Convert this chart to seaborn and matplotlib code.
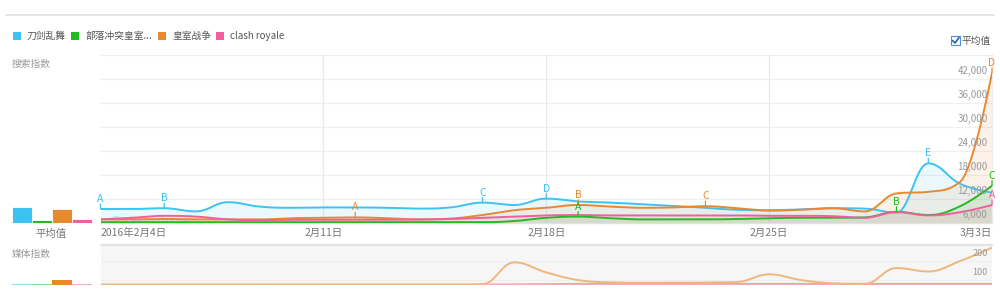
import numpy as np
import pandas as pd
import matplotlib
matplotlib.use('Agg')
import matplotlib.pyplot as plt
import matplotlib.transforms as mtransforms
from matplotlib.patches import Rectangle
from matplotlib.lines import Line2D
import seaborn as sns

# ---------------- data ----------------
series_names = ['刀剑乱舞', '部落冲突皇室战争', '皇室战争', 'clash royale']
legend_labels = ['刀剑乱舞', '部落冲突皇室...', '皇室战争', 'clash royale']
colors = ['#3cc3f2', '#22bb22', '#e8892f', '#f35e9e']
media_colors = ['#9ddcf5', '#8fd88f', '#f0b77c', '#f5a9c9']
days = list(range(29))
x_tick_pos = [0, 7, 14, 21, 28]
x_tick_labels = ['2016年2月4日', '2月11日', '2月18日', '2月25日', '3月3日']
y_tick_values = [6000, 12000, 18000, 24000, 30000, 36000, 42000]
media_tick_values = [100, 200]

search_blue = [9500, 9500, 9700, 8900, 11200, 10100, 9800, 9900, 9900, 9800,
               9600, 9900, 11100, 10500, 12100, 11400, 11100, 10700, 10300, 9800,
               9300, 9200, 9400, 9700, 9600, 8600, 20900, 15800, 13600]
search_green = [6200, 6200, 6200, 6200, 6200, 6200, 6200, 6200, 6200, 6200,
                6200, 6200, 6200, 6500, 7300, 7600, 7200, 6900, 6900, 6900,
                7000, 7200, 7300, 7300, 7400, 8800, 8000, 10200, 15300]
search_orange = [6900, 6900, 7000, 6900, 6900, 6900, 7200, 7300, 7400, 7200,
                 6900, 7100, 8000, 9200, 9800, 10500, 10100, 9800, 9900, 10200,
                 9700, 9100, 9300, 9700, 8900, 13400, 13800, 16300, 43500]
search_pink = [6900, 7300, 7800, 7600, 6900, 6700, 6800, 6800, 6800, 6800,
               6900, 7000, 7300, 7600, 7900, 8000, 7900, 7900, 7900, 7900,
               7900, 7800, 7800, 7700, 7300, 8700, 7900, 8700, 10500]
search_avg = [10000, 6750, 9600, 7100]

media_blue = [75] * 29
media_green = [75, 75, 75, 75, 75, 75, 75, 75, 75, 75, 75, 75, 76, 78, 79, 80, 80, 80, 80, 80,
               80, 80, 80, 80, 80, 80, 80, 80, 80]
media_orange = [76, 76, 76, 76, 76, 76, 76, 76, 76, 76, 76, 76, 78, 193, 140, 100, 88, 86, 86, 87,
                90, 130, 100, 83, 80, 163, 145, 200, 270]
media_pink = [75] * 29
media_avg = [79, 79, 99, 79]

# (series index, day, letter)
annotations = [(0, 0, 'A'), (0, 2, 'B'), (0, 12, 'C'), (0, 14, 'D'), (0, 26, 'E'),
               (2, 8, 'A'), (2, 15, 'B'), (2, 19, 'C'), (2, 28, 'D'),
               (1, 15, 'A'), (1, 25, 'B'), (1, 28, 'C'),
               (3, 28, 'A')]

search = [search_blue, search_green, search_orange, search_pink]
media = [media_blue, media_green, media_orange, media_pink]


# ---------------- helpers ----------------
def spline(xv, yv, smoothing=1.5, steps=24):
    """Highcharts-like smooth path through the points (rendering only)."""
    xv = np.asarray(xv, float)
    yv = np.asarray(yv, float)
    n = len(xv)
    lcx, lcy = xv.copy(), yv.copy()
    rcx, rcy = xv.copy(), yv.copy()
    d = smoothing + 1
    for i in range(1, n - 1):
        px, py = xv[i], yv[i]
        lx, ly = xv[i - 1], yv[i - 1]
        nx, ny = xv[i + 1], yv[i + 1]
        lX = (smoothing * px + lx) / d
        lY = (smoothing * py + ly) / d
        rX = (smoothing * px + nx) / d
        rY = (smoothing * py + ny) / d
        corr = 0.0
        if rX != lX:
            corr = ((rY - lY) * (rX - px)) / (rX - lX) + py - rY
        lY += corr
        rY += corr
        if lY > ly and lY > py:
            lY = max(ly, py); rY = 2 * py - lY
        elif lY < ly and lY < py:
            lY = min(ly, py); rY = 2 * py - lY
        if rY > ny and rY > py:
            rY = max(ny, py); lY = 2 * py - rY
        elif rY < ny and rY < py:
            rY = min(ny, py); lY = 2 * py - rY
        lcx[i], lcy[i], rcx[i], rcy[i] = lX, lY, rX, rY
    t = np.linspace(0, 1, steps, endpoint=False)
    ox, oy = [], []
    for i in range(n - 1):
        p0x, p0y = xv[i], yv[i]
        c1x, c1y = rcx[i], rcy[i]
        c2x, c2y = lcx[i + 1], lcy[i + 1]
        p3x, p3y = xv[i + 1], yv[i + 1]
        a = (1 - t) ** 3; b = 3 * (1 - t) ** 2 * t; c = 3 * (1 - t) * t ** 2; e = t ** 3
        ox.append(a * p0x + b * c1x + c * c2x + e * p3x)
        oy.append(a * p0y + b * c1y + c * c2y + e * p3y)
    ox.append([xv[-1]]); oy.append([yv[-1]])
    return np.concatenate(ox), np.concatenate(oy)


W, H = 1000, 294


def fx(px):
    return px / W


def fy(py):
    return 1 - py / H


# ---------------- figure ----------------
sns.set_theme(style='white')
plt.rcParams['font.family'] = ['Noto Sans CJK SC', 'DejaVu Sans']
plt.rcParams['axes.unicode_minus'] = False

fig = plt.figure(figsize=(10, 2.94), dpi=100)
fig.patch.set_facecolor('white')

# top separator
fig.add_artist(Line2D([fx(6), fx(994)], [fy(15), fy(15)], color='#e6e6e6', lw=1.4,
                      transform=fig.transFigure))

# legend
leg_sq_x = [13, 71, 158, 216]
leg_tx_x = [27, 85, 172, 230]
for i in range(4):
    fig.add_artist(Rectangle((fx(leg_sq_x[i]), fy(40)), 8 / W, 8 / H, transform=fig.transFigure,
                             facecolor=colors[i], edgecolor='none'))
    fig.text(fx(leg_tx_x[i]), fy(36), legend_labels[i], fontsize=7, color='#555555',
             ha='left', va='center')

# checkbox 平均值
fig.add_artist(Rectangle((fx(951), fy(45)), 9 / W, 9 / H, transform=fig.transFigure,
                         facecolor='white', edgecolor='#4a90e2', lw=0.8))
fig.add_artist(Line2D([fx(952.5), fx(955), fx(959)], [fy(40.5), fy(43), fy(37.5)],
                      color='#1f5fbf', lw=1.2, transform=fig.transFigure))
fig.text(fx(962), fy(40.5), '平均值', fontsize=7, color='#555555', ha='left', va='center')

# side labels
fig.text(fx(12), fy(64), '搜索指数', fontsize=7, color='#999999', ha='left', va='center')
fig.text(fx(12), fy(254), '媒体指数', fontsize=7, color='#999999', ha='left', va='center')
fig.text(fx(51), fy(234), '平均值', fontsize=7.5, color='#777777', ha='center', va='center')

# ---------------- main search chart ----------------
ax = fig.add_axes([fx(100.5), fy(223), 891.5 / W, 168 / H])
ax.set_xlim(0, 28)
ax.set_ylim(6000, 48000)
for s in ['left', 'top']:
    ax.spines[s].set_visible(False)
ax.spines['bottom'].set_color('#e2e2e2')
ax.spines['bottom'].set_linewidth(1.0)
ax.spines['right'].set_color('#ececec')
ax.spines['right'].set_linewidth(1.0)

for v in range(12000, 48001, 6000):
    ax.axhline(v, color='#efefef', lw=0.9, zorder=0)
for d in [7, 14, 21]:
    ax.axvline(d, color='#e9e9e9', lw=0.9, zorder=0)

ax.text(0.3, 6800, '@index.baidu.com', fontsize=6.5, color='#d2d2d2', ha='left', va='center',
        zorder=1)

for i in range(4):
    xs, ys = spline(days, search[i])
    ax.fill_between(xs, 6000, ys, color=colors[i], alpha=0.1, lw=0, zorder=1)
for i in range(4):
    xs, ys = spline(days, search[i])
    df = pd.DataFrame({'day': xs, 'value': ys})
    sns.lineplot(data=df, x='day', y='value', ax=ax, color=colors[i], lw=1.4,
                 estimator=None, sort=False, zorder=3 + i)

for si, d, letter in annotations:
    yv = search[si][d]
    c = colors[si]
    ax.annotate('', xy=(d, yv), xytext=(0, 5), textcoords='offset pixels',
                arrowprops=dict(arrowstyle='-', color=c, lw=0.9, shrinkA=0, shrinkB=0),
                zorder=8, annotation_clip=False)
    ax.annotate(letter, xy=(d, yv), xytext=(0, 10), textcoords='offset pixels',
                ha='center', va='center', fontsize=7.5, color=c, zorder=9,
                annotation_clip=False)

ytrans = mtransforms.offset_copy(ax.get_yaxis_transform(), fig=fig, x=0, y=3, units='dots')
for v in y_tick_values:
    ax.text(987.5 / 891.5 - 100.5 / 891.5, v, f'{v:,}', transform=ytrans, ha='right', va='bottom',
            fontsize=7, color='#999999', zorder=10)

ax.set_yticks([])
ax.set_xticks(x_tick_pos)
ax.set_xticklabels(x_tick_labels)
ax.tick_params(axis='x', length=0, pad=3.5, labelsize=7.5, labelcolor='#777777')
lbls = ax.get_xticklabels()
lbls[0].set_ha('left')
lbls[-1].set_ha('right')
ax.set_xlabel('')
ax.set_ylabel('')
ax.grid(False)

# ---------------- average bars (search) ----------------
axb = fig.add_axes([fx(12), fy(223), 80 / W, 168 / H])
bdf = pd.DataFrame({'name': series_names, 'avg': search_avg})
sns.barplot(data=bdf, x='name', y='avg', hue='name', palette=colors, ax=axb, width=1.0,
            legend=False, edgecolor='white', linewidth=0.6, saturation=1)
axb.set_ylim(6000, 48000)
axb.set_xlim(-0.5, 3.5)
axb.axis('off')

# ---------------- media chart ----------------
axm = fig.add_axes([fx(100.5), fy(285), 891.5 / W, 39 / H])
axm.set_facecolor('#f6f6f6')
axm.set_xlim(0, 28)
axm.set_ylim(74, 279)
for s in axm.spines.values():
    s.set_visible(False)
for v in media_tick_values:
    axm.axhline(v, color='#efefef', lw=0.8, zorder=0)
for i in [0, 1, 3, 2]:
    xs, ys = spline(days, media[i])
    mdf = pd.DataFrame({'day': xs, 'value': ys})
    sns.lineplot(data=mdf, x='day', y='value', ax=axm, color=media_colors[i], lw=1.4,
                 estimator=None, sort=False, zorder=3)
mtrans = mtransforms.offset_copy(axm.get_yaxis_transform(), fig=fig, x=0, y=3, units='dots')
for v in media_tick_values:
    axm.text(887 / 891.5, v, f'{v}', transform=mtrans, ha='right', va='bottom',
             fontsize=6.5, color='#999999', zorder=10)
axm.set_xticks([])
axm.set_yticks([])
axm.set_xlabel('')
axm.set_ylabel('')
fig.add_artist(Line2D([fx(100.5), fx(992)], [fy(244.5), fy(244.5)], color='#e3e3e3', lw=1.6,
                      transform=fig.transFigure))

# ---------------- average bars (media) ----------------
axmb = fig.add_axes([fx(12), fy(285), 80 / W, 39 / H])
mbdf = pd.DataFrame({'name': series_names, 'avg': media_avg})
sns.barplot(data=mbdf, x='name', y='avg', hue='name',
            palette=[media_colors[0], media_colors[1], colors[2], media_colors[3]],
            ax=axmb, width=1.0, legend=False, edgecolor='none', saturation=1)
axmb.set_ylim(74, 279)
axmb.set_xlim(-0.5, 3.5)
axmb.axis('off')

fig.savefig('out.png', dpi=100, facecolor='white')
